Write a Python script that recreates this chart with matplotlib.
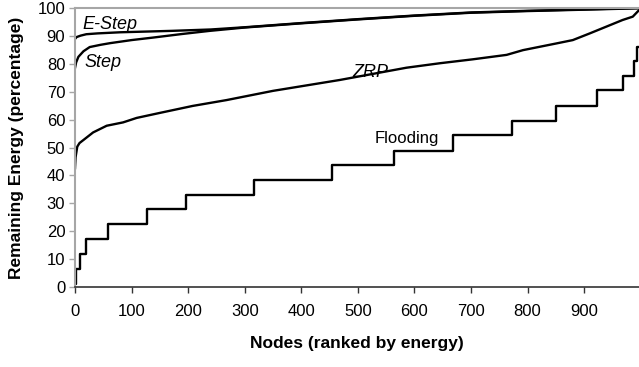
import matplotlib
matplotlib.use("Agg")
import matplotlib.pyplot as plt

plt.rcParams["font.family"] = ["Liberation Sans", "DejaVu Sans"]

# Remaining energy per node, nodes ranked by energy (0..999)
estep_nodes = [0, 3, 10, 20, 40, 80, 170, 240, 300, 400, 500, 600, 700, 800, 900, 999]
estep_vals = [88.9, 89.6, 90.1, 90.6, 90.9, 91.3, 91.8, 92.3, 93.1, 94.6, 96.0, 97.3, 98.4, 99.0, 99.5, 100.0]

step_nodes = [0, 2, 6, 15, 26, 45, 62, 100, 138, 190, 238, 300, 400, 500, 600, 700, 800, 900, 999]
step_vals = [78.5, 80.5, 82.5, 84.5, 86.0, 86.8, 87.4, 88.5, 89.4, 90.7, 91.8, 93.0, 94.5, 95.9, 97.2, 98.3, 98.9, 99.4, 99.9]

zrp_nodes = [0, 1, 4, 8, 15, 32, 56, 85, 109, 150, 208, 268, 350, 468, 527, 586, 645,
             703, 763, 792, 851, 880, 910, 939, 968, 986, 995, 999]
zrp_vals = [42.6, 46.5, 50.3, 51.6, 52.7, 55.4, 57.8, 59.0, 60.6, 62.4, 64.9, 67.0, 70.3,
            74.2, 76.4, 78.6, 80.2, 81.6, 83.2, 84.9, 87.3, 88.5, 90.9, 93.3, 95.7, 96.9,
            98.8, 99.5]

flood_nodes = [0, 1, 9, 19, 58, 127, 196, 316, 454, 564, 668, 772, 851, 922, 969, 989, 994, 999]
flood_vals = [1.1, 6.5, 11.8, 17.2, 22.5, 28.0, 33.0, 38.5, 43.7, 48.9, 54.6, 59.6, 65.0,
              70.6, 75.6, 81.0, 86.0, 86.0]

x_ticks = [0, 100, 200, 300, 400, 500, 600, 700, 800, 900]
y_ticks = [0, 10, 20, 30, 40, 50, 60, 70, 80, 90, 100]

fig = plt.figure(figsize=(6.39, 3.67), dpi=100)
ax = fig.add_axes([75 / 639, 1 - 287 / 367, 1 - 75 / 639, (287 - 8) / 367])

lw = 1.7
ax.plot(estep_nodes, estep_vals, color="black", lw=lw)
ax.plot(step_nodes, step_vals, color="black", lw=lw)
ax.plot(zrp_nodes, zrp_vals, color="black", lw=lw)
ax.step(flood_nodes, flood_vals, where="post", color="black", lw=lw)

ax.text(14, 92.5, "E-Step", style="italic", fontsize=13, va="baseline", ha="left")
ax.text(16, 78.9, "Step", style="italic", fontsize=13, va="baseline", ha="left")
ax.text(491, 75.3, "ZRP", style="italic", fontsize=13, va="baseline", ha="left")
ax.text(530, 51.5, "Flooding", fontsize=12, va="baseline", ha="left")

ax.set_xlim(0, 997)
ax.set_ylim(0, 100)
ax.set_xticks(x_ticks)
ax.set_yticks(y_ticks)

gray = "#a6a6a6"
ax.spines["right"].set_visible(False)
ax.spines["top"].set_color(gray)
ax.spines["top"].set_linewidth(1.5)
ax.spines["left"].set_color(gray)
ax.spines["left"].set_linewidth(1.5)
ax.spines["bottom"].set_color("#333333")
ax.spines["bottom"].set_linewidth(1.2)

ax.tick_params(axis="x", direction="out", length=4, width=1, color="#333333",
               labelsize=12, pad=8)
ax.tick_params(axis="y", direction="out", length=4, width=1, color=gray,
               labelsize=12, pad=3)

ax.set_xlabel("Nodes (ranked by energy)", fontsize=12.5, fontweight="bold")
ax.set_ylabel("Remaining Energy (percentage)", fontsize=12.5, fontweight="bold")
ax.xaxis.set_label_coords(0.5, -0.175)
ax.yaxis.set_label_coords(-0.09, 0.5)

fig.savefig("out.png", dpi=100)
